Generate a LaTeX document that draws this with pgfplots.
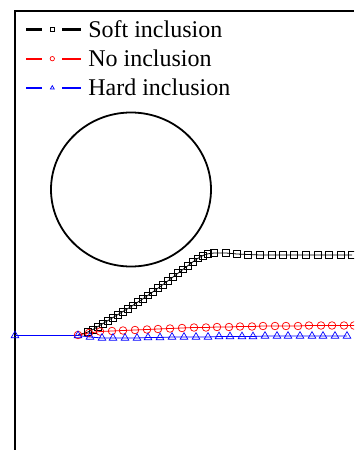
\documentclass[border=0pt]{standalone}
\usepackage{pgfplots}
\pgfplotsset{compat=1.18}
\usepackage{fontspec}
\setmainfont{Liberation Serif}
\pgfplotsset{
  mylegend/.style={legend image code/.code={
    \path[draw=none,fill=none] (0pt,-1pt) rectangle (60pt,1pt);
    \draw[#1,mark=none,line width=2.2pt] (0pt,0pt) -- (16pt,0pt) (36pt,0pt) -- (55pt,0pt);
    \path[#1,draw=none] plot[only marks,mark size=2.2pt] coordinates {(26pt,0pt)};
  }},
}
\begin{document}
\begin{tikzpicture}
\useasboundingbox (0,0) rectangle (354pt,450pt);
\clip (0,0) rectangle (354pt,450pt);
\begin{axis}[
  at={(0,0)}, anchor=south west,
  scale only axis, width=354pt, height=450pt,
  xmin=0, xmax=354, ymin=0, ymax=450, y dir=reverse,
  axis lines=none, ticks=none, clip=false,
  legend cell align=left,
  legend style={at={(axis cs:25,18)}, anchor=north west, draw=none, fill=none,
    font=\fontsize{24}{28}\selectfont, row sep=7pt, inner sep=0pt,
    nodes={inner sep=2pt}},
]
\draw[line width=1.6pt] (axis cs:15,450) -- (axis cs:15,11) -- (axis cs:354,11);
\draw[line width=1.8pt] (axis cs:131,189.5) ellipse [x radius=80, y radius=77];
\draw[black, line width=0.8pt] (axis cs:78,335) -- (axis cs:88,332);

\addplot[black, line width=0.8pt, mark=square, mark size=3.4pt, mark options={line width=0.7pt}, mylegend] coordinates {
(88,332) (93,329.5) (98,326.5) (103,323.5) (108,320.5) (113,317.5)
(118,314.5) (123,311.5) (128,308.5) (133,305.3) (138,302) (143,298.7) (148,295.3)
(153,291.8) (158,288.2) (163,284.5) (168,280.8) (173,277) (178,273.2) (183,269.4)
(188,265.6) (193,261.8) (198,258.3) (203,255.5) (208,253.8) (214,253) (226,253)
(237,254) (248,254.5) (260,255) (272,255) (283,255) (294,255) (306,255) (318,255)
(329,255) (341,255) (352,255)};
\addlegendentry{Soft inclusion}

\addplot[red, line width=0.8pt, mark=o, mark size=3.8pt, mark options={line width=0.7pt}, mylegend] coordinates {
(78,335) (89,333) (100,331.5) (112,331) (123,330.5) (135,330) (147,329.5)
(158,329) (170,328.5) (182,328) (194,327.5) (206,327.5) (217,327) (229,327) (240,326.5)
(252,326.5) (263,326) (275,326) (286,326) (298,326) (309,325.5) (321,325.5) (332,325.5)
(344,325.5) (354,325.5)};
\addlegendentry{No inclusion}

\addplot[blue, line width=0.8pt, mark=triangle, mark size=4.4pt, mark options={line width=0.7pt}, mylegend] coordinates {
(15,335.5) (78,335.5) (90,337) (102,338) (113,338) (125,338) (137,338) (148,337.5)
(160,337.5) (172,337) (184,337) (196,337) (208,337) (219,336.5) (230,336.5) (242,336.5)
(253,336.5) (265,336) (277,336) (288,336) (300,336) (312,336) (323,336) (335,336)
(347,336)};
\addlegendentry{Hard inclusion}
\draw[blue, line width=1.6pt] (axis cs:15,335.5) -- (axis cs:78,335.5);
\end{axis}
\end{tikzpicture}
\end{document}
